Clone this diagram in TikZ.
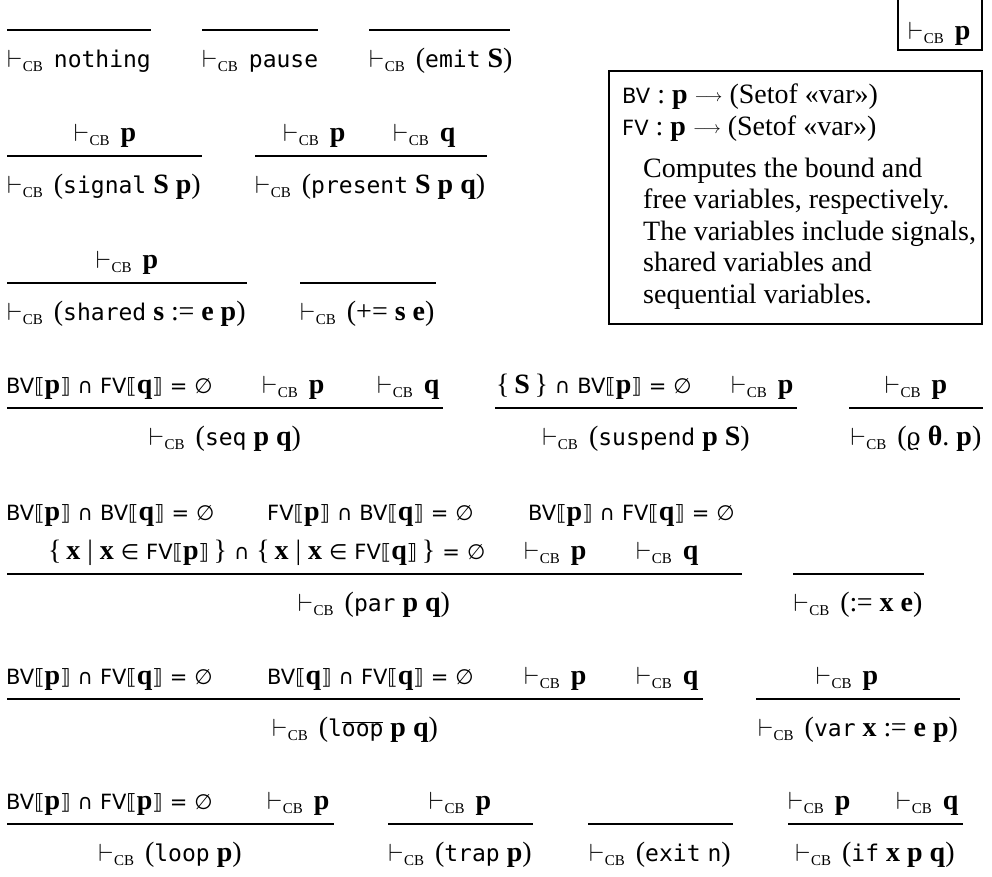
\documentclass[tikz,border=0pt]{standalone}
\usepackage{fontspec}
\setmainfont{Liberation Serif}
\setmonofont{DejaVu Sans Mono}
\newfontfamily\sansf{DejaVu Sans}
\newfontfamily\dserif{DejaVu Serif}

\newcommand\kw[1]{{\fontsize{23}{26}\selectfont\ttfamily #1}}
\newcommand\nt[1]{\textbf{#1}}
\newcommand\tcb{{\fontsize{26}{26}\selectfont$\vdash$}\kern0.5pt\raisebox{-4pt}{\fontsize{15}{15}\selectfont CB}\kern11pt}
\newcommand\sv[1]{{\sansf\fontsize{21}{24}\selectfont #1}}
\newcommand\sem[1]{\sv{⟦}\nt{#1}\sv{⟧}}
\newcommand\BVof[1]{\sv{BV}\sem{#1}}
\newcommand\FVof[1]{\sv{FV}\sem{#1}}
\newcommand\icap{\ \sv{∩}\ }
\newcommand\ieq{\ \sv{=}\ \sv{∅}}
\newcommand\ass{:\kern-0.5pt=}
\newcommand\arr{\raisebox{2pt}{\fontsize{18}{18}\selectfont$\longrightarrow$}}
\newcommand\vrho{{\dserif\fontsize{24}{26}\selectfont ϱ}}

\begin{document}
\begin{tikzpicture}[x=1pt,y=-1pt,
  every node/.style={inner sep=0pt, font=\fontsize{28}{32}\selectfont},
  txt/.style={anchor=base west},
  ctr/.style={anchor=base},
  infline/.style={line width=1.6pt},
  frame/.style={draw, line width=1.5pt}]
\useasboundingbox (0,0) rectangle (992,876);

% ---------- row 1 ----------
\draw[infline] (7,30) -- (151,30);
\node[txt] (cnothing) at (7,67) {\tcb\kw{nothing}};
\draw[infline] (202,30) -- (318,30);
\node[txt] (cpause) at (202,67) {\tcb\kw{pause}};
\draw[infline] (369,30) -- (510,30);
\node[txt] (cemit) at (369,67) {\tcb(\kw{emit}\ \nt{S})};

% ---------- judgement box ----------
\draw[frame] (898,-2) rectangle (982,50);
\node[txt] (judg) at (908,39) {\tcb\nt{p}};

% ---------- BV/FV box ----------
\draw[frame] (609,71) rectangle (982,324);
\node[txt] (bvsig) at (622,103) {\sv{BV} : \nt{p} \arr\ (Setof «var»)};
\node[txt] (fvsig) at (622,135) {\sv{FV} : \nt{p} \arr\ (Setof «var»)};
\node[txt] (d1) at (643,177) {Computes the bound and};
\node[txt] (d2) at (643,208.5) {free variables, respectively.};
\node[txt] (d3) at (643,240) {The variables include signals,};
\node[txt] (d4) at (643,271.5) {shared variables and};
\node[txt] (d5) at (643,303) {sequential variables.};

% ---------- row 2 ----------
\draw[infline] (7,156) -- (202,156);
\node[ctr] (psignal) at (105,141) {\tcb\nt{p}};
\node[txt] (csignal) at (7,193) {\tcb(\kw{signal}\ \nt{S}\ \nt{p})};
\draw[infline] (255,156) -- (487,156);
\node[txt] (ppres1) at (283,141) {\tcb\nt{p}};
\node[txt] (ppres2) at (393,141) {\tcb\nt{q}};
\node[txt] (cpres) at (255,193) {\tcb(\kw{present}\ \nt{S}\ \nt{p}\ \nt{q})};

% ---------- row 3 ----------
\draw[infline] (7,283) -- (247,283);
\node[ctr] (pshared) at (127,268) {\tcb\nt{p}};
\node[txt] (cshared) at (7,320) {\tcb(\kw{shared}\ \nt{s}\ \ass\ \nt{e}\ \nt{p})};
\draw[infline] (300,283) -- (436,283);
\node[txt] (cplus) at (300,320) {\tcb(+=\ \nt{s}\ \nt{e})};

% ---------- row 4 ----------
\draw[infline] (7,408) -- (443,408);
\node[txt] (pseq1) at (6,393) {\BVof{p}\icap\FVof{q}\ieq};
\node[txt] (pseq2) at (262,393) {\tcb\nt{p}};
\node[txt] (pseq3) at (377,393) {\tcb\nt{q}};
\node[ctr] (cseq) at (225,445) {\tcb(\kw{seq}\ \nt{p}\ \nt{q})};

\draw[infline] (495,408) -- (797,408);
\node[txt] (psus1) at (496,393) {\{\,\nt{S}\,\}\icap\BVof{p}\ieq};
\node[txt] (psus2) at (731,393) {\tcb\nt{p}};
\node[ctr] (csus) at (646,445) {\tcb(\kw{suspend}\ \nt{p}\ \nt{S})};

\draw[infline] (849,408) -- (983,408);
\node[ctr] (prho) at (916,393) {\tcb\nt{p}};
\node[ctr] (crho) at (916,445) {\tcb(\vrho\ \nt{θ}.\ \nt{p})};

% ---------- row 5 ----------
\draw[infline] (7,574) -- (742,574);
\node[txt] (ppar1) at (6,520) {\BVof{p}\icap\BVof{q}\ieq};
\node[txt] (ppar2) at (267,520) {\FVof{p}\icap\BVof{q}\ieq};
\node[txt] (ppar3) at (528,520) {\BVof{p}\icap\FVof{q}\ieq};
\node[txt] (ppar4) at (48,559) {\{\,\nt{x}\ |\ \nt{x}\ \sv{∈}\ \FVof{p}\,\}\icap\{\,\nt{x}\ |\ \nt{x}\ \sv{∈}\ \FVof{q}\,\}\ieq};
\node[txt] (ppar5) at (524,559) {\tcb\nt{p}};
\node[txt] (ppar6) at (636,559) {\tcb\nt{q}};
\node[ctr] (cpar) at (374,611) {\tcb(\kw{par}\ \nt{p}\ \nt{q})};

\draw[infline] (793,574) -- (924,574);
\node[ctr] (cassign) at (858,611) {\tcb(\ass\ \nt{x}\ \nt{e})};

% ---------- row 6 ----------
\draw[infline] (7,699) -- (703,699);
\node[txt] (plb1) at (6,684) {\BVof{p}\icap\FVof{q}\ieq};
\node[txt] (plb2) at (267,684) {\BVof{q}\icap\FVof{q}\ieq};
\node[txt] (plb3) at (524,684) {\tcb\nt{p}};
\node[txt] (plb4) at (636,684) {\tcb\nt{q}};
\node[ctr] (clb) at (355,736) {\tcb(\kw{l$\overline{\hbox{oop}}$}\ \nt{p}\ \nt{q})};

\draw[infline] (756,699) -- (960,699);
\node[ctr] (pvar) at (847,684) {\tcb\nt{p}};
\node[ctr] (cvar) at (858,736) {\tcb(\kw{var}\ \nt{x}\ \ass\ \nt{e}\ \nt{p})};

% ---------- row 7 ----------
\draw[infline] (7,824) -- (334,824);
\node[txt] (ploop1) at (6,809) {\BVof{p}\icap\FVof{p}\ieq};
\node[txt] (ploop2) at (267,809) {\tcb\nt{p}};
\node[ctr] (cloop) at (170,861) {\tcb(\kw{loop}\ \nt{p})};

\draw[infline] (388,824) -- (533,824);
\node[ctr] (ptrap) at (460,809) {\tcb\nt{p}};
\node[ctr] (ctrap) at (460,861) {\tcb(\kw{trap}\ \nt{p})};

\draw[infline] (588,824) -- (733,824);
\node[ctr] (cexit) at (660,861) {\tcb(\kw{exit}\ \kw{n})};

\draw[infline] (788,824) -- (963,824);
\node[txt] (pif1) at (788,809) {\tcb\nt{p}};
\node[txt] (pif2) at (896,809) {\tcb\nt{q}};
\node[ctr] (cif) at (875,861) {\tcb(\kw{if}\ \nt{x}\ \nt{p}\ \nt{q})};
\end{tikzpicture}
\end{document}
